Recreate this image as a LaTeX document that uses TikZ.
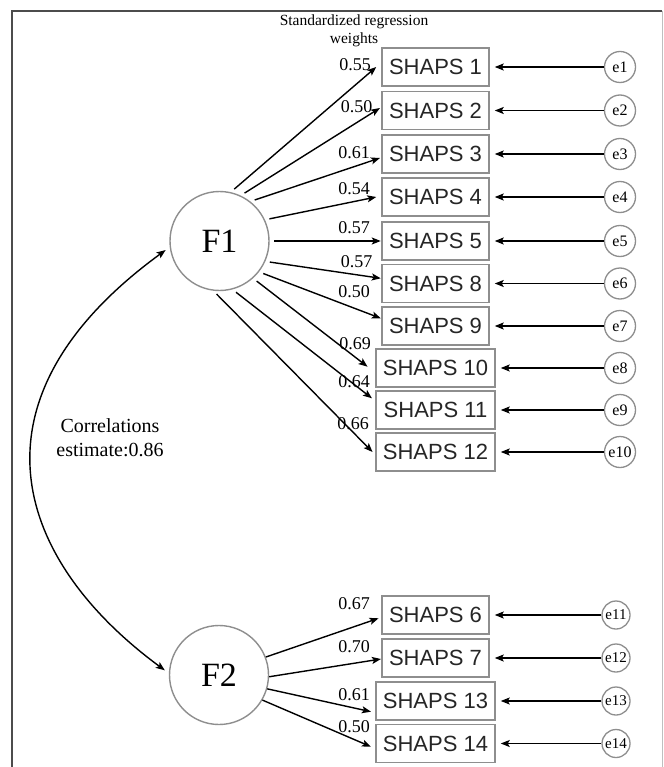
\documentclass[tikz,border=0pt]{standalone}
\usepackage{fontspec}
\setmainfont{Liberation Serif}
\newfontfamily\boxfont{Liberation Sans}
\usetikzlibrary{arrows.meta,calc}
\definecolor{bord}{HTML}{8E8E8E}
\begin{document}
\begin{tikzpicture}[x=1pt,y=-1pt,
  latent/.style={circle, draw=bord, line width=1.4pt, minimum size=99pt, inner sep=0pt, font=\fontsize{34}{34}\selectfont},
  err/.style={circle, draw=bord, line width=1.3pt, minimum size=31pt, inner sep=0pt, font=\fontsize{16}{16}\selectfont},
  errs/.style={err, minimum size=28pt, font=\fontsize{15}{15}\selectfont},
  item/.style={rectangle, draw=bord, line width=1.5pt, minimum width=107pt, minimum height=38pt, inner sep=0pt, font=\boxfont\fontsize{22}{22}\selectfont, text=black!85},
  itemw/.style={item, minimum width=119pt},
  lab/.style={inner sep=0pt, font=\fontsize{18}{18}\selectfont},
  arr/.style={line width=1.4pt, -{Stealth[length=9pt,width=7pt,inset=2pt]}},
  darr/.style={line width=1.4pt, {Stealth[length=9pt,width=7pt,inset=2pt]}-{Stealth[length=9pt,width=7pt,inset=2pt]}}
]
\useasboundingbox (0,0) rectangle (663,767);
\fill[white] (0,0) rectangle (663,767);
% frame
\draw[line width=1.2pt, draw=black!70] (12,767) -- (12,11) -- (662,11);
\draw[line width=1pt, draw=black!25] (662,11) -- (662,767);

% title
\node[font=\fontsize{15.5}{17.6}\selectfont, align=center, inner sep=0pt] (title) at (354,30.5) {Standardized regression\\weights};

% latent factors
\node[latent] (F1) at (219.5,241) {F1};
\node[latent] (F2) at (219,675) {F2};

% items
\node[item]  (s1)  at (435.5,67)    {SHAPS 1};
\node[item]  (s2)  at (435.5,110.5) {SHAPS 2};
\node[item]  (s3)  at (435.5,154)   {SHAPS 3};
\node[item]  (s4)  at (435.5,197)   {SHAPS 4};
\node[item]  (s5)  at (435.5,241)   {SHAPS 5};
\node[item]  (s8)  at (435.5,283.5) {SHAPS 8};
\node[item]  (s9)  at (435.5,326)   {SHAPS 9};
\node[itemw] (s10) at (435.5,368)   {SHAPS 10};
\node[itemw] (s11) at (435.5,410)   {SHAPS 11};
\node[itemw] (s12) at (435.5,452)   {SHAPS 12};
\node[item]  (s6)  at (435.5,615)   {SHAPS 6};
\node[item]  (s7)  at (435.5,658)   {SHAPS 7};
\node[itemw] (s13) at (435.5,701)   {SHAPS 13};
\node[itemw] (s14) at (435.5,743.5) {SHAPS 14};

% errors
\node[err] (e1)  at (620,67)    {e1};
\node[err] (e2)  at (620,110.5) {e2};
\node[err] (e3)  at (620,154)   {e3};
\node[err] (e4)  at (620,197)   {e4};
\node[err] (e5)  at (620,241)   {e5};
\node[err] (e6)  at (620,283.5) {e6};
\node[err] (e7)  at (620,326)   {e7};
\node[err] (e8)  at (620,368)   {e8};
\node[err] (e9)  at (620,410)   {e9};
\node[err] (e10) at (620,452)   {e10};
\node[errs] (e11) at (616,615)   {e11};
\node[errs] (e12) at (616,658)   {e12};
\node[errs] (e13) at (616,701)   {e13};
\node[errs] (e14) at (616,743.5) {e14};

\foreach \e/\s in {e1/s1,e2/s2,e3/s3,e4/s4,e5/s5,e6/s8,e7/s9,e8/s10,e9/s11,e10/s12,e11/s6,e12/s7,e13/s13,e14/s14}
  \draw[arr, shorten >=5pt] (\e) -- (\s);

% F1 loadings
\draw[arr, shorten <=4.5pt] (F1.77)  -- ($(s1.west)+(-5,0)$);
\draw[arr, shorten <=4.5pt] (F1.65.6) -- ($(s2.west)+(-1.3,-2.5)$);
\draw[arr, shorten <=4.5pt] (F1.52)  -- ($(s3.west)+(-1.3,4)$);
\draw[arr, shorten <=4.5pt] (F1.25)  -- ($(s4.west)+(-5,0)$);
\draw[arr, shorten <=4.5pt] (F1.0)   -- ($(s5.west)+(-0.5,0)$);
\draw[arr, shorten <=4.5pt] (F1.-24) -- ($(s8.west)+(-0.5,-5.2)$);
\draw[arr, shorten <=4.5pt] (F1.-38) -- ($(s9.west)+(-0.5,-7.7)$);
\draw[arr, shorten <=4.5pt] (F1.-48.4) -- ($(s10.west)+(-7.7,-1.3)$);
\draw[arr, shorten <=4.5pt] (F1.-75) -- ($(s11.west)+(-3.3,-11.7)$);
\draw[arr, shorten <=4.5pt] (F1.-97) -- ($(s12.west)+(-2.7,0)$);

% F2 loadings
\draw[arr] (F2.21)   -- ($(s6.west)+(-2.7,3.3)$);
\draw[arr] (F2.-2.6) -- ($(s7.west)+(-0.3,1)$);
\draw[arr] (F2.-16)  -- ($(s13.west)+(-4.3,10.7)$);
\draw[arr] (F2.-30)  -- ($(s14.west)+(-4.3,3.2)$);

% loading labels
\node[lab] (l1)  at (355,65)    {0.55};
\node[lab] (l2)  at (356.7,107) {0.50};
\node[lab] (l3)  at (354,152.7) {0.61};
\node[lab] (l4)  at (354,189)   {0.54};
\node[lab] (l5)  at (354,228)   {0.57};
\node[lab] (l8)  at (356.7,261.7) {0.57};
\node[lab] (l9)  at (354,291.7) {0.50};
\node[lab] (l10) at (355,343.3) {0.69};
\node[lab] (l11) at (354,381.7) {0.64};
\node[lab] (l12) at (353,423.3) {0.66};
\node[lab] (l6)  at (354,603.3) {0.67};
\node[lab] (l7)  at (354,646.7) {0.70};
\node[lab] (l13) at (354,695)   {0.61};
\node[lab] (l14) at (354,726.7) {0.50};

% correlation
\draw[darr, shorten <=5pt, shorten >=5pt] (F1.187) .. controls (-40,400) and (15,560) .. (F2.178);
\node[font=\fontsize{20}{24}\selectfont, align=center, inner sep=0pt] (corr) at (110,438) {Correlations\\estimate:0.86};
\end{tikzpicture}
\end{document}
